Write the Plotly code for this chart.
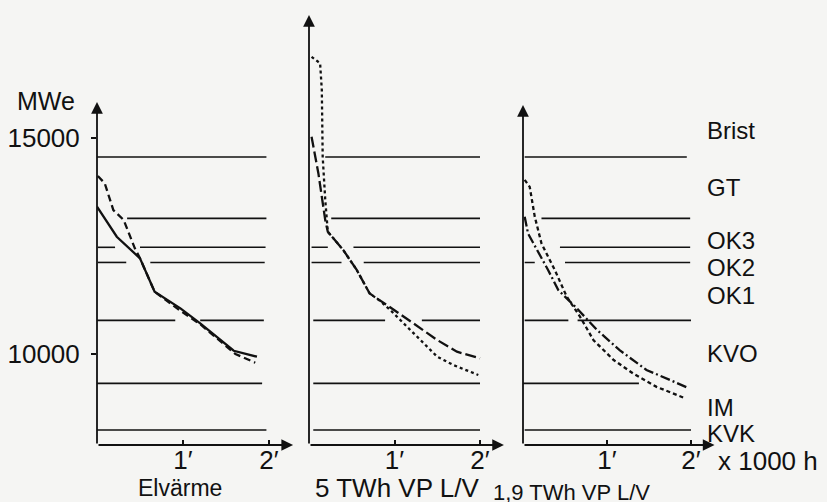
import plotly.graph_objects as go

# ---------------- data ----------------
# Load-level boundaries (MWe) separating the plant categories
LEVELS = [14560, 13140, 12470, 12120, 10780, 9320, 8240]
LEVEL_NAMES = ["Brist", "GT", "OK3", "OK2", "OK1", "KVO", "IM", "KVK"]
LABEL_ROWS_PX = [130, 187, 240, 267, 295, 353, 407, 433]   # label centres (px)

# drawn stretches of each level line per panel (x in 1000 h)
P1_SEGMENTS = [
    [[0.0, 1.97]],
    [[0.35, 1.97]],
    [[0.01, 0.21], [0.50, 1.96]],
    [[0.01, 0.34], [0.62, 1.95]],
    [[0.0, 0.91], [1.20, 1.94]],
    [[0.0, 1.92]],
    [[0.0, 1.97]],
]
P2_SEGMENTS = [
    [[0.19, 2.0]],
    [[0.26, 2.0]],
    [[0.03, 0.22], [0.52, 2.0]],
    [[0.03, 0.38], [0.64, 2.0]],
    [[0.05, 0.89], [1.32, 2.0]],
    [[0.05, 2.0]],
    [[0.05, 2.0]],
]
P3_SEGMENTS = [
    [[0.02, 1.95]],
    [[0.22, 1.99]],
    [[0.44, 1.99]],
    [[0.02, 0.14], [0.50, 1.99]],
    [[0.02, 0.54], [0.65, 2.0]],
    [[0.0, 1.38]],
    [[0.02, 2.0]],
]

# Panel 1: Elvärme
P1_SOLID_X = [0.0, 0.23, 0.50, 0.67, 0.97, 1.20, 1.59, 1.86]
P1_SOLID_Y = [13410, 12715, 12215, 11442, 11057, 10711, 10076, 9938]
P1_DASH_X = [0.01, 0.09, 0.19, 0.31, 0.44, 0.50, 0.67, 0.97, 1.20, 1.61, 1.84]
P1_DASH_Y = [14120, 13951, 13333, 13102, 12447, 12215, 11442, 11000, 10690, 10000, 9799]

# Panel 2: 5 TWh VP L/V
P2_LONG_X = [0.03, 0.11, 0.19, 0.22, 0.40, 0.56, 0.71, 0.83, 0.94, 1.22, 1.50, 1.73, 2.0]
P2_LONG_Y = [15030, 14180, 13100, 12830, 12410, 11940, 11400, 11250, 11095, 10711, 10324, 10053, 9900]
P2_DOT_X = [0.03, 0.13, 0.15, 0.16, 0.19, 0.22, 0.40, 0.56, 0.71, 0.83, 0.95, 1.22, 1.50, 1.69, 1.98]
P2_DOT_Y = [16880, 16730, 16110, 14570, 13570, 12830, 12410, 11940, 11400, 11230, 11019, 10479, 9938, 9745, 9514]

# Panel 3: 1,9 TWh VP L/V
P3_DASHDOT_X = [0.02, 0.06, 0.30, 0.42, 0.64, 0.88, 1.15, 1.47, 1.75, 1.97]
P3_DASHDOT_Y = [13180, 12790, 11940, 11480, 11060, 10560, 10090, 9630, 9400, 9210]
P3_DOT_X = [0.02, 0.08, 0.14, 0.22, 0.38, 0.52, 0.68, 0.84, 1.08, 1.31, 1.59, 1.93]
P3_DOT_Y = [14030, 13870, 13180, 12560, 11940, 11330, 10860, 10320, 9860, 9550, 9240, 8975]

PANEL_TITLES = ["Elvärme", "5 TWh VP L/V", "1,9 TWh VP L/V"]
X_TICKS = [1, 2]
X_TICKTEXT = ["1\u2032", "2\u2032"]
Y_TICKS = [10000, 15000]
Y_TICKTEXT = ["10000", "15000"]
AXIS_TOPS = [15833, 17847, 15764]

# ---------------- layout helpers ----------------
W, H = 827, 502
INK = "#111111"
BG = "#f5f5f3"
FONT = "Liberation Sans, Arial, sans-serif"
Y_BASE = 7894
Y_TOP = 18195
X_MAX = 2.3
X_TIP = 2.28
PANEL_PX = [(97, 86.0), (309, 85.5), (523, 84.0)]  # (x=0 pixel, px per unit)

fig = go.Figure()

def seg_xy(segments):
    xs, ys = [], []
    for lvl, segs in zip(LEVELS, segments):
        for a, b in segs:
            xs += [a, b, None]
            ys += [lvl, lvl, None]
    return xs, ys

panels = [
    (P1_SEGMENTS, [(P1_SOLID_X, P1_SOLID_Y, "solid"), (P1_DASH_X, P1_DASH_Y, "7px,4px")]),
    (P2_SEGMENTS, [(P2_LONG_X, P2_LONG_Y, "11px,4px"), (P2_DOT_X, P2_DOT_Y, "3px,3px")]),
    (P3_SEGMENTS, [(P3_DASHDOT_X, P3_DASHDOT_Y, "10px,3px,2px,3px"), (P3_DOT_X, P3_DOT_Y, "4px,3px")]),
]

for i, (segs, curves) in enumerate(panels):
    xr = "x" if i == 0 else f"x{i+1}"
    yr = "y" if i == 0 else f"y{i+1}"
    lx, ly = seg_xy(segs)
    fig.add_trace(go.Scatter(x=lx, y=ly, mode="lines", xaxis=xr, yaxis=yr,
                             line=dict(color=INK, width=1.6), hoverinfo="skip",
                             showlegend=False))
    for cx, cy, dash in curves:
        fig.add_trace(go.Scatter(x=cx, y=cy, mode="lines", xaxis=xr, yaxis=yr,
                                 line=dict(color=INK, width=2.3, dash=dash),
                                 hoverinfo="skip", showlegend=False))

layout = dict(
    width=W, height=H, margin=dict(l=0, r=0, t=0, b=0),
    paper_bgcolor=BG, plot_bgcolor=BG, showlegend=False,
    font=dict(family=FONT, color=INK),
)
annotations = []
for i, (x0, ppu) in enumerate(PANEL_PX):
    sfx = "" if i == 0 else str(i + 1)
    d0 = x0 / W
    d1 = (x0 + X_MAX * ppu) / W
    layout["xaxis" + sfx] = dict(
        domain=[d0, d1], range=[0, X_MAX], anchor="y" + sfx,
        showgrid=False, zeroline=False, showline=False,
        tickmode="array", tickvals=X_TICKS, ticktext=X_TICKTEXT,
        ticks="inside", ticklen=5, tickwidth=1.6, tickcolor=INK,
        ticklabelstandoff=-3,
        tickfont=dict(size=26, family=FONT, color=INK),
    )
    yax = dict(
        domain=[1 - 445 / H, 1], range=[Y_BASE, Y_TOP], anchor="x" + sfx,
        showgrid=False, zeroline=False, showline=False,
    )
    if i == 0:
        yax.update(tickmode="array", tickvals=Y_TICKS, ticktext=Y_TICKTEXT,
                   ticks="outside", ticklen=5, tickwidth=1.6, tickcolor=INK,
                   ticklabelstandoff=6,
                   tickfont=dict(size=26, family=FONT, color=INK))
    else:
        yax.update(showticklabels=False, ticks="")
    layout["yaxis" + sfx] = yax

    # axis arrows
    xr = "x" + sfx
    yr = "y" + sfx
    annotations.append(dict(x=0, y=AXIS_TOPS[i], ax=0, ay=Y_BASE, xref=xr, yref=yr,
                            axref=xr, ayref=yr, text="", showarrow=True,
                            arrowhead=2, arrowsize=1.3, arrowwidth=1.8,
                            arrowcolor=INK, standoff=0, startstandoff=0))
    annotations.append(dict(x=X_TIP, y=Y_BASE, ax=0, ay=Y_BASE, xref=xr, yref=yr,
                            axref=xr, ayref=yr, text="", showarrow=True,
                            arrowhead=2, arrowsize=1.3, arrowwidth=1.8,
                            arrowcolor=INK, standoff=0, startstandoff=0))

# panel titles
TITLE_POS = [(180, 488, 23), (397, 488, 26), (571, 492, 22)]
for t, (cx, cy, fs) in zip(PANEL_TITLES, TITLE_POS):
    annotations.append(dict(x=cx / W, y=1 - cy / H, xref="paper", yref="paper",
                            text=t, showarrow=False, xanchor="center", yanchor="middle",
                            font=dict(size=fs, family=FONT, color=INK)))

# level names on the right
for name, py in zip(LEVEL_NAMES, LABEL_ROWS_PX):
    annotations.append(dict(x=705 / W, y=1 - py / H, xref="paper", yref="paper",
                            text=name, showarrow=False, xanchor="left", yanchor="middle",
                            font=dict(size=24, family=FONT, color=INK)))

annotations.append(dict(x=46 / W, y=1 - 101 / H, xref="paper", yref="paper",
                        text="MWe", showarrow=False, xanchor="center", yanchor="middle",
                        font=dict(size=25, family=FONT, color=INK)))
annotations.append(dict(x=716 / W, y=1 - 461 / H, xref="paper", yref="paper",
                        text="x 1000 h", showarrow=False, xanchor="left", yanchor="middle",
                        font=dict(size=26, family=FONT, color=INK)))

layout["annotations"] = annotations
fig.update_layout(**layout)
fig.write_html("out.html")
